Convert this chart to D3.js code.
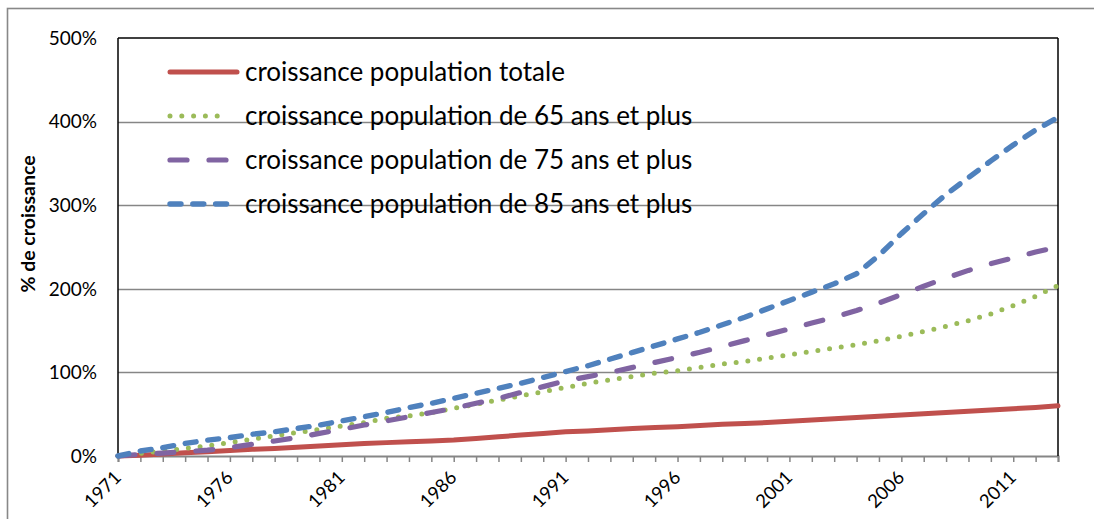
<!DOCTYPE html>
<html><head><meta charset="utf-8">
<script src="https://cdn.jsdelivr.net/npm/d3@7"></script>
<style>
html,body{margin:0;padding:0;background:#fff;}
svg{display:block;font-family:Lato,"Open Sans",sans-serif;}
</style></head>
<body>
<svg id="chart" width="1094" height="519"></svg>
<script>
const years = d3.range(1971, 2014);
const seriesNames = [
  "croissance population totale",
  "croissance population de 65 ans et plus",
  "croissance population de 75 ans et plus",
  "croissance population de 85 ans et plus"
];
const totale = [0,1,2.5,4,5,6.5,8,9,10.5,12,13.5,15,16,17,18,19,21,23,25,27,29,30,31.5,33,34,35,36.5,38,39,40,41.5,43,44.5,46,47.5,49,50.5,52,53.5,55,56.5,58,60];
const plus65 = [0,3,6,9,12,16,20,24,28,32,36,40,45,48,52,57,62,67,72,77,82,87,91,95,99,102,106,110,113,117,121,125,129,133,138,143,149,155,162,170,180,191,204];
const plus75 = [0,2,3.5,5,7,10,14,18,22,27,32,37,42,47,52,57,63,69,76,83,90,95,100,106,112,118,124,131,138,145,152,159,166,174,183,193,203,213,222,230,237,244,250];
const plus85 = [0,6,10,15,19,22,26,29,33,37,42,47,52,58,63,69,75,81,87,94,101,108,116,124,132,140,148,157,166,176,186,196,206,218,240,266,290,313,333,353,372,390,405];
const yTicks = [0,100,200,300,400,500];
const xLabelYears = [1971,1976,1981,1986,1991,1996,2001,2006,2011];
const yTitle = "% de croissance";

const colors = ["#C0504D","#9BBB59","#8064A2","#4F81BD"];
const styles = [
  {w:5, dash:null},
  {w:5, dash:"0 11.8"},
  {w:5.2, dash:"17 22"},
  {w:5.4, dash:"11 11.8"}
];
const allSeries = [totale, plus65, plus75, plus85];

const svg = d3.select("#chart");
const L = 118, R = 1058, T = 38, B = 456;
const x = d3.scaleLinear().domain([1971, 2013]).range([L, R]);
const y = d3.scaleLinear().domain([0, 500]).range([B, T]);

// outer frame
svg.append("rect").attr("x",7.5).attr("y",8.5).attr("width",1100).attr("height",520)
  .attr("fill","none").attr("stroke","#888").attr("stroke-width",1.6);

// gridlines
svg.append("g").selectAll("line").data(yTicks.filter(d=>d>0 && d<500)).join("line")
  .attr("x1",L).attr("x2",R).attr("y1",d=>Math.round(y(d))+0.5).attr("y2",d=>Math.round(y(d))+0.5)
  .attr("stroke","#868686").attr("stroke-width",1.5);

// y tick labels
svg.append("g").selectAll("text").data(yTicks).join("text")
  .attr("x",97).attr("y",d=>y(d)).attr("dy","0.36em").attr("text-anchor","end")
  .attr("font-size",19).attr("fill","#000").text(d=>d+"%");

// x axis
const xAxis = d3.axisBottom(x).tickValues(years).tickSize(6).tickFormat("");
const gx = svg.append("g").attr("transform",`translate(0,${B})`).call(xAxis);
gx.select(".domain").attr("stroke","#868686").attr("stroke-width",2);
gx.selectAll(".tick line").attr("stroke","#868686").attr("stroke-width",1.5);

svg.append("g").selectAll("text").data(xLabelYears).join("text")
  .attr("text-anchor","end").attr("font-size",18.5).attr("fill","#000")
  .attr("transform",d=>`translate(${x(d)-0.5},${B+18}) rotate(-45)`)
  .attr("dy","0.36em").text(d=>d);

// frame lines (black)
svg.append("line").attr("x1",L).attr("x2",L).attr("y1",T).attr("y2",B).attr("stroke","#000").attr("stroke-width",1.5);
svg.append("line").attr("x1",R).attr("x2",R).attr("y1",T).attr("y2",B).attr("stroke","#000").attr("stroke-width",1.5);
svg.append("line").attr("x1",L).attr("x2",R).attr("y1",T).attr("y2",T).attr("stroke","#000").attr("stroke-width",1.5);

// y title
svg.append("text").attr("transform",`translate(35,224) rotate(-90)`)
  .attr("text-anchor","middle").attr("font-size",19.5).attr("font-weight","bold").text(yTitle);

// series
const line = d3.line().x((d,i)=>x(years[i])).y(d=>y(d));
allSeries.forEach((s,k)=>{
  svg.append("path").datum(s).attr("d",line).attr("fill","none")
    .attr("stroke",colors[k]).attr("stroke-width",styles[k].w)
    .attr("stroke-linecap","round").attr("stroke-linejoin","round")
    .attr("stroke-dasharray",styles[k].dash);
});

// legend
const legY = [72,116,160,204];
const legEnd = [237, 229, 228, 229];
seriesNames.forEach((n,k)=>{
  const g = svg.append("g");
  g.append("line").attr("x1",170).attr("x2",legEnd[k]).attr("y1",legY[k]).attr("y2",legY[k])
    .attr("stroke",colors[k]).attr("stroke-width",styles[k].w)
    .attr("stroke-linecap","round").attr("stroke-dasharray",styles[k].dash);
  g.append("text").attr("x",245).attr("y",legY[k]).attr("dy","0.36em")
    .attr("font-size",26).attr("fill","#000").text(n);
});
</script>
</body></html>
